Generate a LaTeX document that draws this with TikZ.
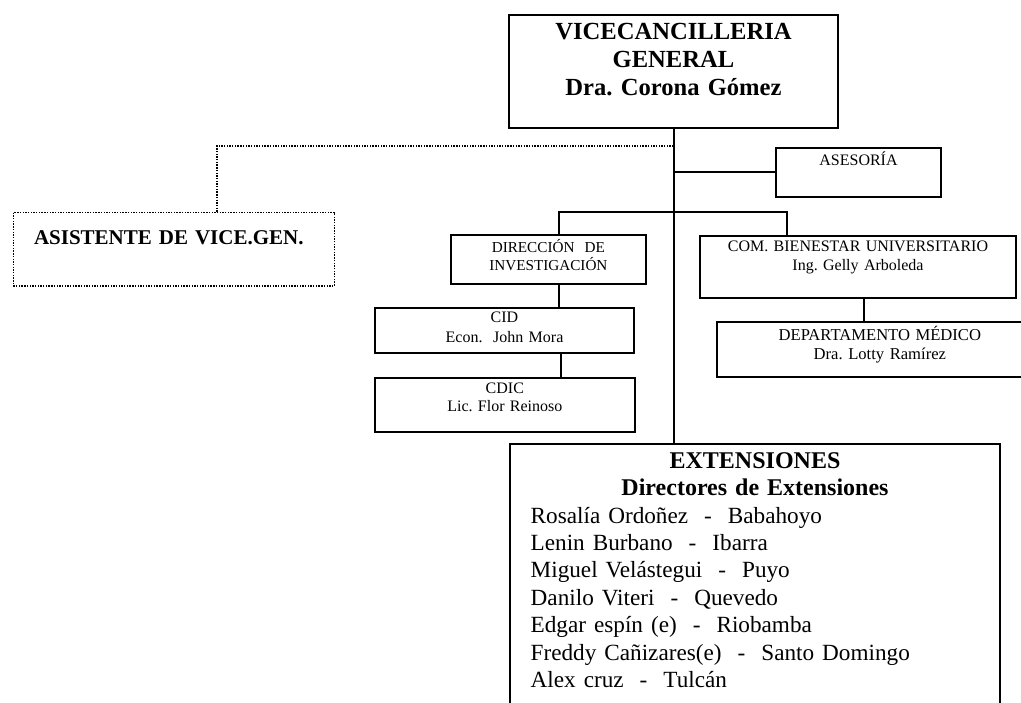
\documentclass[tikz,border=0pt]{standalone}
\usepackage{fontspec}
\setmainfont{Liberation Serif}
\frenchspacing
\usetikzlibrary{positioning}
\tikzset{
  orgbox/.style={draw, line width=1pt, inner sep=0pt, anchor=north, align=center},
  dotbox/.style={draw, line width=0.8pt, dash pattern=on 0.7pt off 0.65pt, inner ysep=0pt, anchor=north, align=left},
  link/.style={line width=1pt},
  dotlink/.style={line width=0.8pt, dash pattern=on 0.7pt off 0.65pt}
}
\begin{document}
\begin{tikzpicture}[x=0.5pt, y=-0.5pt]
  \useasboundingbox (0,0) rectangle (1021,702);
  \clip (0,0) rectangle (1021,702);

  % Vicecancilleria general
  \node[orgbox, text width=164.2pt, text height=11.95pt, text depth=44.25pt, font=\fontsize{12.3}{14.1}\selectfont\bfseries] (vice) at (673.5,14.3) {VICECANCILLERIA\\GENERAL\\Dra. Corona Gómez};

  % Asesoria
  \node[orgbox, text width=82.5pt, text height=8.8pt, text depth=15.7pt, font=\fontsize{8}{9.5}\selectfont] (asesoria) at (858.5,146.7) {ASESORÍA};

  % Asistente (dotted)
  \node[dotbox, text width=139.8pt, inner xsep=10.35pt, text height=16pt, text depth=20.65pt, font=\fontsize{10.5}{12}\selectfont\bfseries] (asist) at (173.8,211.7) {ASISTENTE DE VICE.GEN.};

  % Direccion de investigacion and its units
  \node[orgbox, text width=97.65pt, text height=8.85pt, text depth=15.8pt, font=\fontsize{7.6}{8.7}\selectfont] (dir) at (548.35,234) {DIRECCIÓN\ \ DE\\INVESTIGACIÓN};
  \node[orgbox, text width=129.5pt, text height=7.3pt, text depth=15.2pt, font=\fontsize{8}{10}\selectfont] (cid) at (504.5,306.7) {CID\\Econ.\ \ John Mora};
  \node[orgbox, text width=129.85pt, text height=7.65pt, text depth=19.35pt, font=\fontsize{8}{9.2}\selectfont] (cdic) at (504.85,376.7) {CDIC\\Lic. Flor Reinoso};

  % Bienestar universitario
  \node[orgbox, text width=158.3pt, text height=7.65pt, text depth=23.2pt, font=\fontsize{8}{9.5}\selectfont] (com) at (858,235) {COM. BIENESTAR UNIVERSITARIO\\Ing. Gelly Arboleda};
  \node[orgbox, text width=163.3pt, text height=9.4pt, text depth=18.1pt, font=\fontsize{8.3}{9.35}\selectfont] (dep) at (879.85,320.7) {DEPARTAMENTO MÉDICO\\Dra. Lotty Ramírez};

  % Extensiones
  \node[orgbox, text width=245pt, text height=12.25pt, text depth=136.4pt, align=left, font=\fontsize{12}{13.7}\selectfont] (ext) at (755,442.7) {%
    {\centering\bfseries EXTENSIONES\\Directores de Extensiones\par}
    \leftskip=10.35pt \fontsize{11.6}{13.7}\selectfont
    Rosalía Ordoñez\ \ -\ \ Babahoyo\\
    Lenin Burbano\ \ -\ \ Ibarra\\
    Miguel Velástegui\ \ -\ \ Puyo\\
    Danilo Viteri\ \ -\ \ Quevedo\\
    Edgar espín (e)\ \ -\ \ Riobamba\\
    Freddy Cañizares(e)\ \ -\ \ Santo Domingo\\
    Alex cruz\ \ -\ \ Tulcán\par};

  % connectors
  \coordinate (brL) at (559,211.7);
  \coordinate (brR) at (786.7,211.7);
  \coordinate (dotL) at (216.7,146);
  \draw[link] (vice.south) -- (vice.south |- ext.north);
  \draw[link] (asesoria.west) -- (asesoria.west -| vice.south);
  \draw[link] (dir.north -| brL) -- (brL) -- (brR) -- (com.north -| brR);
  \draw[link] (dir.south -| brL) -- (cid.north -| brL);
  \draw[link] ([xshift=0.85pt]cid.south -| brL) -- ([xshift=0.85pt]cdic.north -| brL);
  \draw[link] ([xshift=3.15pt]com.south) -- ([xshift=3.15pt]com.south |- dep.north);
  \draw[dotlink] (vice.south |- dotL) -- (dotL) -- (dotL |- asist.north);
\end{tikzpicture}
\end{document}
